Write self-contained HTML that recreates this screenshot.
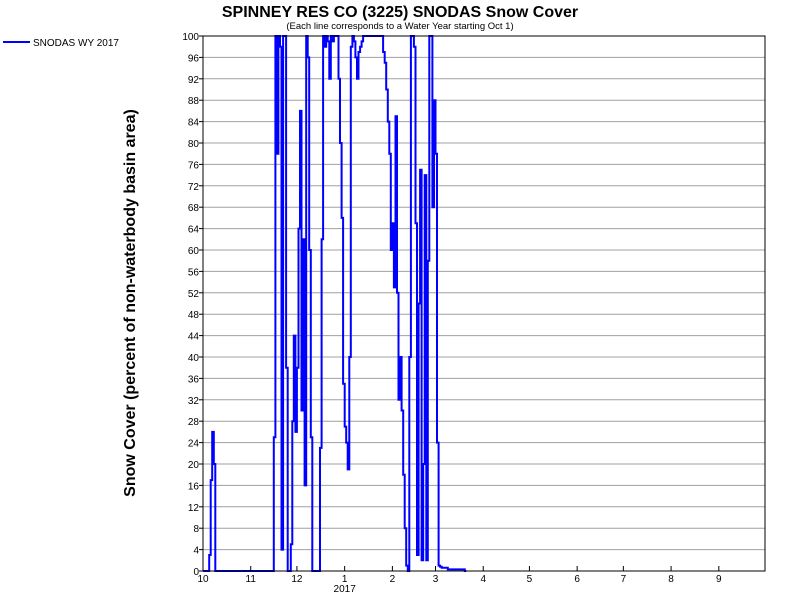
<!DOCTYPE html>
<html><head><meta charset="utf-8"><style>
body{margin:0;background:#fff;font-family:"Liberation Sans",Arial,sans-serif}
svg text{font-family:"Liberation Sans",Arial,sans-serif}
</style></head><body>
<svg id="chart" width="800" height="600" xmlns="http://www.w3.org/2000/svg">
<rect width="800" height="600" fill="#fff"/>
<text x="400" y="17" text-anchor="middle" font-size="16" font-weight="bold">SPINNEY RES CO (3225) SNODAS Snow Cover</text>
<text x="400" y="29" text-anchor="middle" font-size="9.5">(Each line corresponds to a Water Year starting Oct 1)</text>
<g>
<line x1="3" y1="42" x2="30" y2="42" stroke="#0000ff" stroke-width="2"/>
<text x="33" y="46" font-size="10">SNODAS WY 2017</text>
</g>
<text transform="translate(135,303) rotate(-90)" text-anchor="middle" font-size="16" font-weight="bold">Snow Cover (percent of non-waterbody basin area)</text>
<g id="grid"></g>
<g id="series"></g>
<rect x="203" y="36" width="562" height="535" fill="none" stroke="#000" stroke-width="1"/>
<g id="axes"></g>
</svg>
<script>
const yTicks=[0,4,8,12,16,20,24,28,32,36,40,44,48,52,56,60,64,68,72,76,80,84,88,92,96,100];
const monthLabels=["10","11","12","1","2","3","4","5","6","7","8","9"];
const monthStartDays=[0,31,61,92,123,151,182,212,243,273,304,335];
// daily snow cover (%) starting Oct 1 (day index = position)
const values=[
0,0,0,0,3,17,26,20,0,0,
0,0,0,0,0,0,0,0,0,0,
0,0,0,0,0,0,0,0,0,0,
0,0,0,0,0,0,0,0,0,0,
0,0,0,0,0,0,25,100,78,100,
98,4,100,100,38,0,0,5,28,44,
26,38,64,86,30,62,16,100,96,60,
25,0,0,0,0,0,23,62,100,98,
100,99,92,100,99,100,100,100,92,80,
66,35,27,24,19,40,98,100,99,96,
92,97,98,99,100,100,100,100,100,100,
100,100,100,100,100,100,100,97,95,90,
84,78,60,65,53,85,52,32,40,30,
18,8,1,0,40,100,100,98,65,3,
50,75,2,20,74,2,58,100,100,68,
88,78,24,1,0.8,0.6,0.6,0.6,0.6,0.3,
0.3,0.3,0.3,0.3,0.3,0.3,0.3,0.3,0.3,0.3,0];
const NS="http://www.w3.org/2000/svg";
const X0=203,X1=765,Y0=571,Y1=36,NDAYS=365;
function xScale(d){return X0+d*(X1-X0)/NDAYS;}
function yScale(v){return Y0-v*(Y0-Y1)/100;}
const grid=document.getElementById('grid'),axes=document.getElementById('axes'),series=document.getElementById('series');
yTicks.forEach(t=>{
  const y=yScale(t);
  const l=document.createElementNS(NS,'line');
  l.setAttribute('x1',X0);l.setAttribute('x2',X1);l.setAttribute('y1',y);l.setAttribute('y2',y);
  l.setAttribute('stroke','#a0a0a0');l.setAttribute('stroke-width','1');
  
  
  grid.appendChild(l);
  const tk=document.createElementNS(NS,'line');
  tk.setAttribute('x1',X0-4);tk.setAttribute('x2',X0);tk.setAttribute('y1',y);tk.setAttribute('y2',y);tk.setAttribute('stroke','#000');
  
  
  axes.appendChild(tk);
  const tx=document.createElementNS(NS,'text');
  tx.setAttribute('x',X0-4);tx.setAttribute('y',y+4);tx.setAttribute('text-anchor','end');tx.setAttribute('font-size','10');
  tx.textContent=t;
  
  
  axes.appendChild(tx);
});
monthLabels.forEach((m,i)=>{
  const x=xScale(monthStartDays[i]);
  const tk=document.createElementNS(NS,'line');
  tk.setAttribute('x1',x);tk.setAttribute('x2',x);tk.setAttribute('y1',Y0-5);tk.setAttribute('y2',Y0);tk.setAttribute('stroke','#000');
  
  
  axes.appendChild(tk);
  const tx=document.createElementNS(NS,'text');
  tx.setAttribute('x',x);tx.setAttribute('y',Y0+11);tx.setAttribute('text-anchor','middle');tx.setAttribute('font-size','10');
  tx.textContent=m;
  
  
  axes.appendChild(tx);
});
const yr=document.createElementNS(NS,'text');
yr.setAttribute('x',xScale(92));yr.setAttribute('y',Y0+21);yr.setAttribute('text-anchor','middle');yr.setAttribute('font-size','10');
yr.textContent='2017';


axes.appendChild(yr);
let d='';
values.forEach((v,i)=>{
  const x=xScale(i).toFixed(1), y=yScale(v).toFixed(1);
  if(i===0){d+='M'+x+','+y;}else{d+=' L'+x+','+yScale(values[i-1]).toFixed(1)+' L'+x+','+y;}
});
d+=' L'+xScale(values.length).toFixed(1)+','+yScale(values[values.length-1]).toFixed(1);
const pl=document.createElementNS(NS,'path');
pl.setAttribute('d',d);pl.setAttribute('fill','none');pl.setAttribute('stroke','#0000ff');pl.setAttribute('stroke-width','2');


series.appendChild(pl);
</script>
</body></html>
